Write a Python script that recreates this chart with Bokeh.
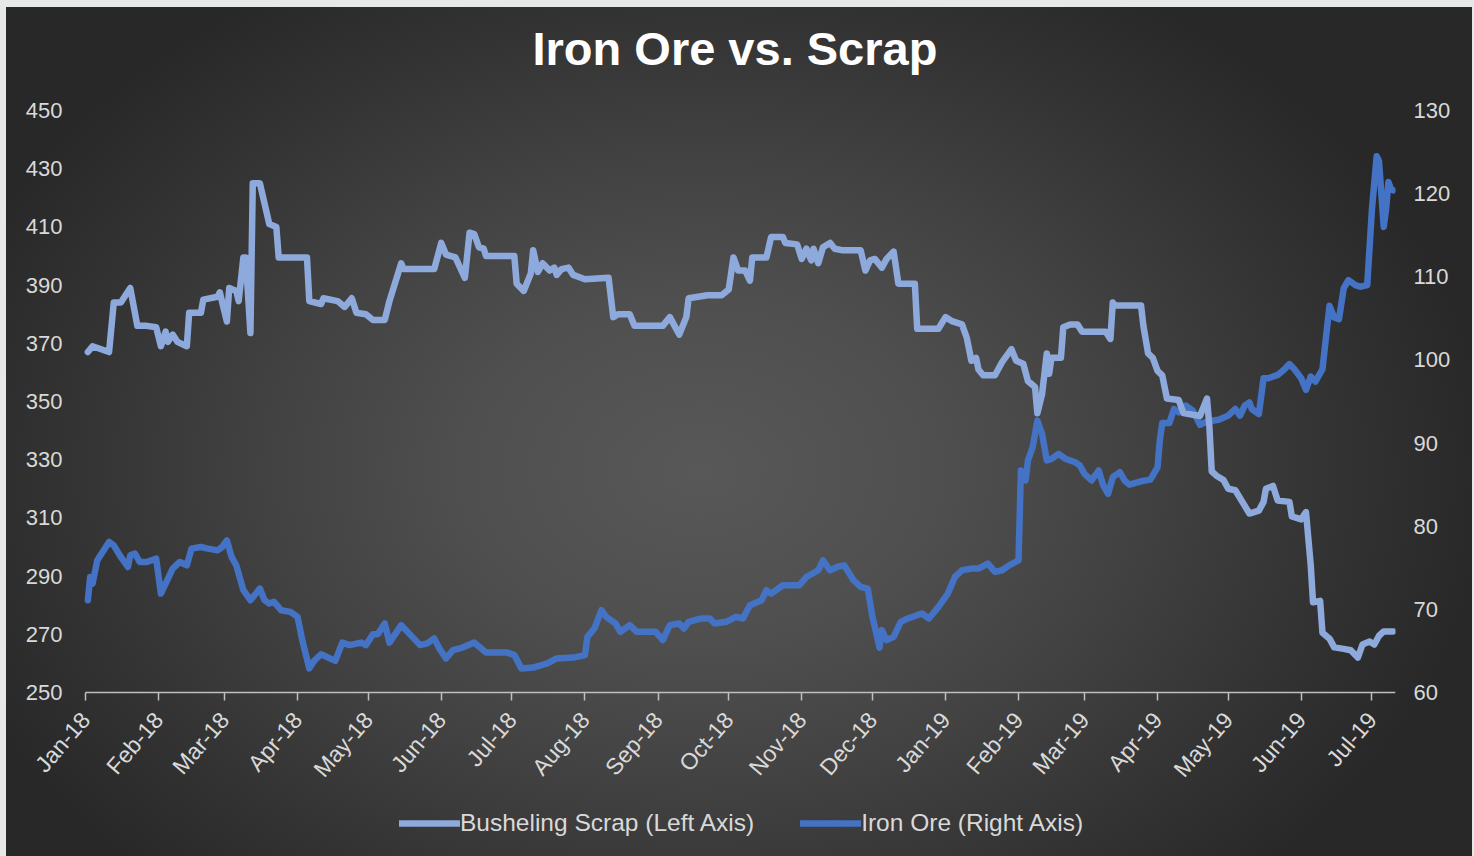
import pandas as pd
from bokeh.plotting import figure
from bokeh.models import (Range1d, LinearAxis, FixedTicker, DatetimeTickFormatter,
                          Legend, LegendItem, ColumnDataSource)
from bokeh.embed import file_html
from bokeh.resources import INLINE

# ---------------- data ----------------
scrap_dates = [
    "2018-01-02", "2018-01-04", "2018-01-11", "2018-01-13", "2018-01-16", "2018-01-20",
    "2018-01-23", "2018-01-27", "2018-01-31", "2018-02-02", "2018-02-04", "2018-02-05",
    "2018-02-07", "2018-02-09", "2018-02-13", "2018-02-14", "2018-02-19", "2018-02-20",
    "2018-02-26", "2018-02-27", "2018-03-02", "2018-03-03", "2018-03-06", "2018-03-07",
    "2018-03-09", "2018-03-10", "2018-03-12", "2018-03-13", "2018-03-16", "2018-03-20",
    "2018-03-23", "2018-03-24", "2018-04-05", "2018-04-06", "2018-04-11", "2018-04-12",
    "2018-04-18", "2018-04-21", "2018-04-24", "2018-04-26", "2018-04-30", "2018-05-03",
    "2018-05-08", "2018-05-10", "2018-05-15", "2018-05-16", "2018-05-29", "2018-06-01",
    "2018-06-03", "2018-06-07", "2018-06-11", "2018-06-13", "2018-06-15", "2018-06-17",
    "2018-06-19", "2018-06-20", "2018-07-02", "2018-07-03", "2018-07-06", "2018-07-09",
    "2018-07-10", "2018-07-12", "2018-07-14", "2018-07-17", "2018-07-19", "2018-07-20",
    "2018-07-22", "2018-07-25", "2018-07-27", "2018-08-01", "2018-08-11", "2018-08-13",
    "2018-08-15", "2018-08-20", "2018-08-22", "2018-09-03", "2018-09-06", "2018-09-10",
    "2018-09-13", "2018-09-14", "2018-09-22", "2018-09-28", "2018-10-01", "2018-10-03",
    "2018-10-05", "2018-10-08", "2018-10-10", "2018-10-11", "2018-10-17", "2018-10-19",
    "2018-10-24", "2018-10-25", "2018-10-30", "2018-11-01", "2018-11-03", "2018-11-05",
    "2018-11-06", "2018-11-08", "2018-11-10", "2018-11-13", "2018-11-15", "2018-11-18",
    "2018-11-26", "2018-11-28", "2018-11-30", "2018-12-02", "2018-12-05", "2018-12-07",
    "2018-12-10", "2018-12-12", "2018-12-19", "2018-12-20", "2018-12-29", "2019-01-01",
    "2019-01-04", "2019-01-08", "2019-01-10", "2019-01-12", "2019-01-14", "2019-01-15",
    "2019-01-17", "2019-01-22", "2019-01-25", "2019-01-29", "2019-01-31", "2019-02-03",
    "2019-02-05", "2019-02-08", "2019-02-09", "2019-02-11", "2019-02-13", "2019-02-14",
    "2019-02-15", "2019-02-19", "2019-02-20", "2019-02-23", "2019-02-26", "2019-02-28",
    "2019-03-10", "2019-03-12", "2019-03-13", "2019-03-14", "2019-03-25", "2019-03-26",
    "2019-03-28", "2019-03-30", "2019-04-01", "2019-04-03", "2019-04-05", "2019-04-10",
    "2019-04-12", "2019-04-19", "2019-04-22", "2019-04-23", "2019-04-24", "2019-04-26",
    "2019-04-29", "2019-05-01", "2019-05-04", "2019-05-07", "2019-05-10", "2019-05-14",
    "2019-05-16", "2019-05-17", "2019-05-20", "2019-05-22", "2019-05-27", "2019-05-28",
    "2019-06-01", "2019-06-03", "2019-06-05", "2019-06-06", "2019-06-09", "2019-06-10",
    "2019-06-13", "2019-06-15", "2019-06-19", "2019-06-22", "2019-06-25", "2019-06-27",
    "2019-06-30", "2019-07-02", "2019-07-04", "2019-07-06", "2019-07-10",
]
scrap_values = [
    367, 369, 367, 384, 384, 389,
    376, 376, 375.5, 369, 374, 370.5,
    373, 370.5, 369, 380.5, 380.5, 385,
    386, 387.5, 377.5, 389, 388, 384.5,
    399.5, 399.5, 373.5, 425, 425, 411,
    410, 399.5, 399.5, 384.5, 383.5, 385.5,
    384.5, 382.5, 385.5, 380.5, 380, 378,
    378, 384.5, 397.5, 395.5, 395.5, 404.5,
    400.5, 399.5, 392.5, 408, 407.5, 403,
    402.5, 400, 400, 390.5, 388, 394,
    402, 394.5, 397.5, 395, 396, 393.5,
    395.5, 396, 393.5, 392, 392.5, 379,
    380, 380, 376, 376, 379, 373,
    379, 385.5, 386.5, 386.5, 388.5, 399.5,
    395, 395, 391.5, 399.5, 399.5, 406.5,
    406.5, 404.5, 404, 399, 402.5, 398.5,
    402.5, 397.5, 403, 404.5, 402.5, 402,
    402, 395, 398.5, 399, 396, 399,
    401.5, 390.5, 390.5, 375, 375, 379,
    377.5, 376.5, 372, 364, 365, 361,
    359, 359, 363.5, 368, 364, 363,
    357, 355, 346, 352.5, 366.5, 359.5,
    365, 365, 375.5, 376.5, 376.5, 374,
    374, 371.5, 384, 383, 383, 376,
    366.5, 365, 360.5, 359, 351, 350.5,
    346, 345, 351, 341.5, 326, 324.5,
    323, 320, 319.5, 315.5, 311.5, 312.5,
    315.5, 320, 321, 316, 315.5, 310.5,
    309.5, 312, 294, 281, 281.5, 270.5,
    268.5, 265.5, 265, 264.5, 262, 266.5,
    267.5, 266.5, 269.5, 271, 271,
]

iron_dates = [
    "2018-01-02", "2018-01-03", "2018-01-04", "2018-01-06", "2018-01-11", "2018-01-13",
    "2018-01-16", "2018-01-19", "2018-01-20", "2018-01-22", "2018-01-24", "2018-01-27",
    "2018-01-31", "2018-02-02", "2018-02-07", "2018-02-10", "2018-02-13", "2018-02-15",
    "2018-02-19", "2018-02-22", "2018-02-26", "2018-02-28", "2018-03-02", "2018-03-04",
    "2018-03-06", "2018-03-09", "2018-03-12", "2018-03-16", "2018-03-18", "2018-03-20",
    "2018-03-22", "2018-03-25", "2018-03-29", "2018-04-01", "2018-04-03", "2018-04-06",
    "2018-04-08", "2018-04-11", "2018-04-14", "2018-04-17", "2018-04-20", "2018-04-23",
    "2018-04-28", "2018-04-30", "2018-05-03", "2018-05-05", "2018-05-08", "2018-05-10",
    "2018-05-15", "2018-05-17", "2018-05-23", "2018-05-26", "2018-05-29", "2018-05-31",
    "2018-06-03", "2018-06-06", "2018-06-10", "2018-06-15", "2018-06-20", "2018-06-29",
    "2018-07-02", "2018-07-05", "2018-07-10", "2018-07-16", "2018-07-20", "2018-07-27",
    "2018-08-01", "2018-08-02", "2018-08-05", "2018-08-08", "2018-08-10", "2018-08-14",
    "2018-08-16", "2018-08-20", "2018-08-23", "2018-08-31", "2018-09-03", "2018-09-06",
    "2018-09-10", "2018-09-12", "2018-09-14", "2018-09-19", "2018-09-23", "2018-09-25",
    "2018-09-30", "2018-10-04", "2018-10-07", "2018-10-10", "2018-10-15", "2018-10-17",
    "2018-10-19", "2018-10-24", "2018-10-31", "2018-11-03", "2018-11-08", "2018-11-10",
    "2018-11-13", "2018-11-16", "2018-11-19", "2018-11-23", "2018-11-26", "2018-11-29",
    "2018-12-01", "2018-12-04", "2018-12-05", "2018-12-07", "2018-12-10", "2018-12-13",
    "2018-12-16", "2018-12-22", "2018-12-25", "2018-12-29", "2019-01-02", "2019-01-05",
    "2019-01-08", "2019-01-12", "2019-01-15", "2019-01-19", "2019-01-22", "2019-01-25",
    "2019-01-28", "2019-02-01", "2019-02-02", "2019-02-04", "2019-02-05", "2019-02-07",
    "2019-02-09", "2019-02-11", "2019-02-13", "2019-02-15", "2019-02-18", "2019-02-21",
    "2019-02-25", "2019-02-27", "2019-03-01", "2019-03-04", "2019-03-07", "2019-03-09",
    "2019-03-11", "2019-03-13", "2019-03-16", "2019-03-18", "2019-03-20", "2019-03-25",
    "2019-03-29", "2019-04-01", "2019-04-02", "2019-04-03", "2019-04-06", "2019-04-08",
    "2019-04-10", "2019-04-13", "2019-04-16", "2019-04-19", "2019-04-22", "2019-04-27",
    "2019-05-01", "2019-05-04", "2019-05-06", "2019-05-08", "2019-05-10", "2019-05-11",
    "2019-05-14", "2019-05-16", "2019-05-18", "2019-05-22", "2019-05-25", "2019-05-27",
    "2019-05-29", "2019-06-01", "2019-06-03", "2019-06-05", "2019-06-07", "2019-06-10",
    "2019-06-12", "2019-06-13", "2019-06-15", "2019-06-17", "2019-06-19", "2019-06-21",
    "2019-06-24", "2019-06-26", "2019-06-29", "2019-07-01", "2019-07-03", "2019-07-04",
    "2019-07-06", "2019-07-07", "2019-07-08", "2019-07-09", "2019-07-10",
]
iron_values = [
    71.1, 73.9, 73.1, 75.9, 78.1, 77.7,
    76.3, 75.1, 76.5, 76.7, 75.7, 75.7,
    76.1, 71.9, 74.9, 75.7, 75.3, 77.3,
    77.5, 77.3, 77.1, 77.5, 78.3, 76.3,
    75.3, 72.3, 71.1, 72.5, 71.1, 70.7,
    70.9, 69.9, 69.7, 69.1, 66.3, 62.9,
    63.8, 64.6, 64.2, 63.8, 66.0, 65.7,
    66.0, 65.7, 67.0, 67.0, 68.3, 66.0,
    68.1, 67.5, 65.7, 65.9, 66.5, 65.4,
    64.1, 65.1, 65.4, 66.0, 64.8, 64.8,
    64.5, 62.9, 63.0, 63.5, 64.1, 64.2,
    64.5, 66.7, 67.7, 69.9, 69.1, 68.3,
    67.3, 68.1, 67.3, 67.3, 66.3, 68.1,
    68.3, 67.7, 68.5, 68.9, 68.9, 68.3,
    68.5, 69.1, 68.9, 70.5, 71.1, 72.3,
    71.9, 72.9, 72.9, 73.9, 74.7, 75.9,
    74.7, 75.1, 75.3, 73.5, 72.7, 72.5,
    69.1, 65.4, 67.5, 66.3, 66.7, 68.5,
    68.9, 69.5, 68.9, 70.3, 71.9, 73.9,
    74.7, 74.9, 74.9, 75.5, 74.5, 74.7,
    75.3, 75.9, 86.7, 85.5, 87.9, 89.5,
    92.7, 91.1, 87.9, 88.1, 88.7, 88.1,
    87.7, 87.3, 86.3, 85.5, 86.7, 84.9,
    83.9, 85.9, 86.5, 85.5, 85.0, 85.4,
    85.6, 87.1, 90.4, 92.4, 92.4, 94.1,
    93.7, 94.5, 93.9, 92.2, 92.6, 92.8,
    93.3, 94.1, 93.3, 94.5, 94.9, 94.1,
    93.5, 97.8, 97.8, 98.2, 98.9, 99.5,
    98.9, 97.8, 96.4, 98.0, 97.4, 98.9,
    104.0, 106.5, 105.1, 104.9, 108.6, 109.6,
    109.0, 108.8, 109.0, 118.1, 124.5, 123.9,
    116.0, 118.1, 121.4, 120.6, 120.4,
]

tick_dates = ["2018-01-01", "2018-02-01", "2018-03-01", "2018-04-01", "2018-05-01",
              "2018-06-01", "2018-07-01", "2018-08-01", "2018-09-01", "2018-10-01",
              "2018-11-01", "2018-12-01", "2019-01-01", "2019-02-01", "2019-03-01",
              "2019-04-01", "2019-05-01", "2019-06-01", "2019-07-01"]
tick_labels = ["Jan-18", "Feb-18", "Mar-18", "Apr-18", "May-18", "Jun-18", "Jul-18",
               "Aug-18", "Sep-18", "Oct-18", "Nov-18", "Dec-18", "Jan-19", "Feb-19",
               "Mar-19", "Apr-19", "May-19", "Jun-19", "Jul-19"]
left_ticks = [250, 270, 290, 310, 330, 350, 370, 390, 410, 430, 450]
right_ticks = [60, 70, 80, 90, 100, 110, 120, 130]

title_text = "Iron Ore vs. Scrap"
scrap_name = "Busheling Scrap (Left Axis)"
iron_name = "Iron Ore (Right Axis)"

# ---------------- styling / layout ----------------
FONT = "Liberation Sans"
TICK_COLOR = "#d9d9d9"
SCRAP_COLOR = "#8ea9db"
IRON_COLOR = "#4472c4"

PLOT_W = 1310     # pixel width of the dated span (Jan-18 .. axis end)
LEFT_W = 85       # room left of the dated span (left tick labels), inside the frame
PLOT_H = 582      # pixel height between the lowest and highest tick
TOP_H = 20        # room above the highest tick, inside the frame
EXTRA_H = 164     # room under the x axis (labels + legend), inside the frame

x_start = pd.Timestamp("2018-01-01")
x_end = pd.Timestamp("2019-07-11")
span_days = (x_end - x_start).days
x_lo = x_start - pd.Timedelta(days=LEFT_W / PLOT_W * span_days)

lo_l, hi_l = left_ticks[0], left_ticks[-1]
lo_r, hi_r = right_ticks[0], right_ticks[-1]
left_lo = lo_l - EXTRA_H / PLOT_H * (hi_l - lo_l)
left_hi = hi_l + TOP_H / PLOT_H * (hi_l - lo_l)
right_lo = lo_r - EXTRA_H / PLOT_H * (hi_r - lo_r)
right_hi = hi_r + TOP_H / PLOT_H * (hi_r - lo_r)

p = figure(frame_width=LEFT_W + PLOT_W, frame_height=TOP_H + PLOT_H + EXTRA_H,
           x_axis_type="datetime", output_backend="svg", toolbar_location=None,
           x_range=Range1d(x_lo, x_end), y_range=Range1d(left_lo, left_hi),
           min_border_left=0, min_border_right=79, min_border_top=110 - TOP_H,
           min_border_bottom=0)
p.extra_y_ranges = {"iron": Range1d(right_lo, right_hi)}

p.background_fill_color = None
p.border_fill_color = None
p.outline_line_color = None
p.styles = {
    "background": "radial-gradient(ellipse 790px 570px at 700px 470px, "
                  "#585858 0%, #4f4f4f 30%, #424242 55%, #333333 80%, #282828 100%)",
    "box-shadow": "inset 6px 7px 0 0 #e7e9e8, inset -2px 0 0 0 #e7e9e8",
}
p.grid.visible = False

# title
p.title.text = title_text
p.title.align = "left"
p.title.offset = 532
p.title.text_color = "#ffffff"
p.title.text_font = FONT
p.title.text_font_size = "47px"
p.title.text_font_style = "bold"
p.title.standoff = 32

start_ms = x_start.value // 10**6
end_ms = x_end.value // 10**6

# x axis, drawn at the 250 level of the left scale
tick_ms = [int(pd.Timestamp(d).value // 10**6) for d in tick_dates]
xa = p.xaxis[0]
xa.fixed_location = lo_l
xa.bounds = (start_ms, end_ms)
xa.ticker = FixedTicker(ticks=tick_ms)
xa.formatter = DatetimeTickFormatter(days="%b-%y", months="%b-%y", years="%b-%y")
xa.major_label_overrides = {ms: lab for ms, lab in zip(tick_ms, tick_labels)}
xa.major_label_orientation = 0.86
xa.major_label_text_color = TICK_COLOR
xa.major_label_text_font = FONT
xa.major_label_text_font_size = "23px"
xa.major_label_standoff = 15
xa.axis_line_color = "#bfbfbf"
xa.axis_line_width = 1.5
xa.major_tick_line_color = "#bfbfbf"
xa.major_tick_line_width = 1.5
xa.major_tick_out = 8
xa.major_tick_in = 0
xa.minor_tick_line_color = None

# left axis, drawn at the Jan-18 edge
ya = p.yaxis[0]
ya.fixed_location = start_ms
ya.bounds = (lo_l, hi_l)
ya.ticker = FixedTicker(ticks=left_ticks)
ya.axis_line_color = None
ya.major_tick_line_color = None
ya.minor_tick_line_color = None
ya.major_tick_out = 0
ya.major_label_standoff = 23
ya.major_label_text_color = TICK_COLOR
ya.major_label_text_font = FONT
ya.major_label_text_font_size = "22px"

# right axis
ra = LinearAxis(y_range_name="iron", ticker=FixedTicker(ticks=right_ticks),
                bounds=(lo_r, hi_r))
ra.axis_line_color = None
ra.major_tick_line_color = None
ra.minor_tick_line_color = None
ra.major_tick_out = 0
ra.major_label_standoff = 18
ra.major_label_text_color = TICK_COLOR
ra.major_label_text_font = FONT
ra.major_label_text_font_size = "22px"
p.add_layout(ra, "right")

# lines
iron_src = ColumnDataSource(dict(x=pd.to_datetime(iron_dates), y=iron_values))
scrap_src = ColumnDataSource(dict(x=pd.to_datetime(scrap_dates), y=scrap_values))

r_iron = p.line("x", "y", source=iron_src, y_range_name="iron",
                line_color=IRON_COLOR, line_width=6.5, line_join="round", line_cap="round")
r_scrap = p.line("x", "y", source=scrap_src,
                 line_color=SCRAP_COLOR, line_width=6.5, line_join="round", line_cap="round")

legend = Legend(items=[LegendItem(label=scrap_name, renderers=[r_scrap]),
                       LegendItem(label=iron_name, renderers=[r_iron])],
                orientation="horizontal", location=(LEFT_W + 314, 19))
legend.background_fill_color = None
legend.background_fill_alpha = 0
legend.border_line_color = None
legend.label_text_color = TICK_COLOR
legend.label_text_font = FONT
legend.label_text_font_size = "24.5px"
legend.glyph_width = 61
legend.glyph_height = 24
legend.label_standoff = 0
legend.spacing = 46
legend.padding = 0
legend.margin = 0
p.add_layout(legend, "center")

html = file_html(p, INLINE)
html = html.replace("<body>", '<body style="background-color:#e7e9e8;">', 1)
open("out.html", "w").write(html)
